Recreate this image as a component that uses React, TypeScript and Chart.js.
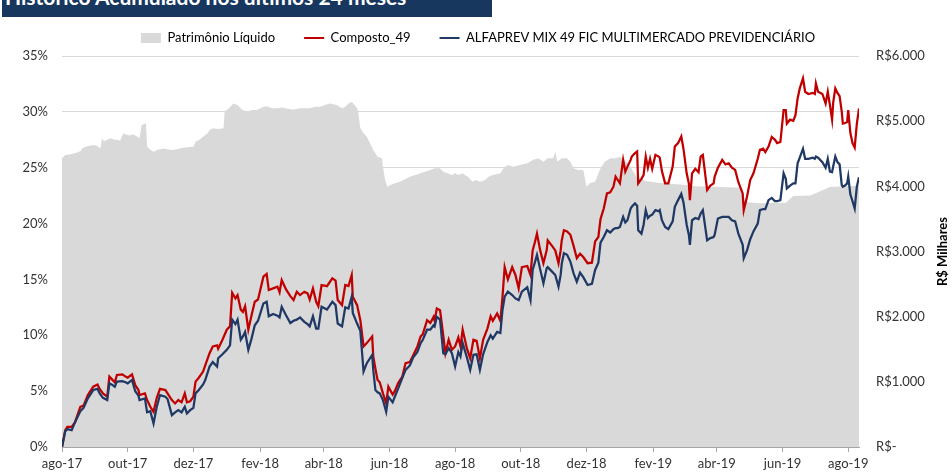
import React, { useEffect, useRef } from 'react';
import { Chart, registerables } from 'chart.js';

Chart.register(...registerables);

// ---- Data ----
const startDate = '2017-08-01';
const endDay = 740; // days after startDate covered by the chart

const xTickDates = ['2017-08-01', '2017-10-01', '2017-12-01', '2018-02-01', '2018-04-01', '2018-06-01', '2018-08-01', '2018-10-01', '2018-12-01', '2019-02-01', '2019-04-01', '2019-06-01', '2019-08-01'];
const xTickLabels = ['ago-17', 'out-17', 'dez-17', 'fev-18', 'abr-18', 'jun-18', 'ago-18', 'out-18', 'dez-18', 'fev-19', 'abr-19', 'jun-19', 'ago-19'];

// day offsets from startDate for the two return series
const lineDays = [
  0, 3, 5, 9, 12, 17, 20, 24, 29, 33, 35, 38, 42, 44, 46, 49, 51, 56, 59, 61, 65,
  68, 71, 72, 77, 79, 82, 85, 88, 91, 96, 98, 102, 105, 108, 111, 114, 116, 119, 122,
  124, 127, 131, 133, 137, 140, 144, 145, 149, 153, 156, 158, 161, 163, 166, 168, 170, 173, 176, 179, 182,
  187, 190, 192, 196, 200, 202, 204, 208, 212, 215, 218, 221, 225, 228, 230, 233, 236, 238,
  241, 246, 251, 254, 256, 260, 263, 266, 269, 270, 274, 277, 280, 283, 288, 289, 291, 293, 295, 298, 301,
  303, 307, 309, 312, 314, 316, 319, 323, 326, 330, 333, 335, 339, 342, 345, 346, 348, 351,
  354, 356, 359, 362, 365, 368, 370, 372, 376, 379, 382, 385, 388, 391, 395, 398, 400, 404, 407,
  409, 411, 414, 418, 421, 424, 427, 432, 435, 437, 439, 441, 444, 447, 450, 451, 455, 458, 461, 463, 464, 466,
  469, 472, 475, 478, 481, 484, 488, 492, 495, 498, 500, 503, 506, 509, 512, 514, 516, 518, 521, 523, 525, 528, 529, 532, 534, 535,
  538, 540, 542, 544, 546, 548, 551, 554, 555, 557, 560, 563, 567, 569, 572, 575, 577, 580, 582, 583, 585, 588, 591, 593, 595, 599,
  602, 605, 606, 609, 613, 616, 619, 622, 625, 628, 632, 633, 636, 639, 642, 646, 648, 651, 653, 656, 659, 662, 664, 667,
  670, 672, 673, 676, 679, 681, 683, 685, 688, 690, 693, 697, 699, 700, 702, 706, 709, 711, 713, 715, 716, 718, 720, 722, 724, 725, 727, 729, 730, 732, 734, 736, 738, 740,
];

// Composto_49 accumulated return (%)
const composto49 = [
  0, 1.5, 1.8, 1.8, 2.2, 3.6, 3.7, 4.65, 5.4, 5.6, 5.2, 4.8, 4.5, 6.3, 6.1, 5.8, 6.45, 6.5, 6.3, 6.2, 6.5,
  5.55, 5.1, 4.65, 4.8, 4.2, 3.6, 3.15, 4.4, 5.2, 5.1, 4.8, 4.2, 3.9, 4.2, 4.0, 4.8, 4.0, 4.1, 4.5,
  5.85, 6.2, 6.75, 7.3, 8.4, 9.0, 9.1, 8.8, 9.6, 10.5, 10.8, 13.8, 13.3, 13.6, 12.3, 12.1, 12.6, 10.5, 11.8, 13.0, 13.2,
  15.25, 15.5, 14.05, 14.2, 14.35, 13.85, 14.95, 14.1, 13.5, 13.15, 13.9, 13.6, 13.9, 13.75, 13.2, 14.2, 13.0, 12.6,
  14.5, 14.4, 15.1, 14.9, 13.15, 12.7, 14.5, 14.4, 15.4, 13.45, 12.7, 11.35, 9.0, 9.3, 9.9, 8.1, 7.0, 6.0, 5.8, 4.8, 3.9,
  5.4, 4.7, 5.0, 5.7, 6.0, 6.3, 7.5, 7.6, 8.2, 9.0, 9.9, 10.1, 11.35, 11.1, 11.65, 11.3, 12.4, 12.25,
  10.0, 8.4, 9.6, 8.7, 9.0, 9.8, 9.0, 10.5, 8.8, 7.95, 9.6, 9.5, 7.95, 9.6, 10.6, 11.7, 11.3, 11.95, 11.3,
  13.45, 16.1, 15.0, 16.1, 15.4, 14.2, 16.1, 16.2, 15.4, 17.6, 18.3, 19.1, 17.6, 16.45, 17.6, 18.5, 18.0, 17.6, 16.45, 17.6, 18.5, 19.4,
  19.3, 19.0, 18.0, 16.9, 17.3, 17.0, 16.45, 16.5, 18.4, 18.8, 20.4, 21.35, 22.7, 22.8, 23.3, 24.2, 23.9, 23.6, 25.7, 24.65, 25.1, 25.7, 26.0, 26.3, 26.45, 23.6,
  24.0, 24.35, 26.0, 25.0, 25.8, 24.9, 26.15, 26.0, 25.9, 24.7, 23.6, 23.6, 25.1, 26.9, 27.2, 27.8, 26.7, 24.5, 23.6, 22.1, 24.5, 24.9, 24.6, 26.0, 26.15, 23.0,
  23.4, 23.6, 24.2, 25.0, 25.7, 25.3, 25.4, 25.0, 24.8, 23.7, 22.7, 21.2, 22.4, 23.9, 24.5, 25.8, 26.6, 26.7, 26.4, 26.9, 27.75, 27.5, 27.2, 27.3,
  30.15, 30.15, 28.95, 29.3, 29.2, 29.7, 31.2, 32.1, 33.0, 31.8, 31.6, 31.7, 31.6, 32.55, 31.8, 31.6, 30.75, 31.8, 30.6, 29.3, 30.8, 32.1, 31.7, 31.4, 30.0, 28.95, 29.0, 29.1, 30.15, 28.1, 27.2, 26.8, 28.95, 30.3,
];

// ALFAPREV MIX 49 FIC MULTIMERCADO PREVIDENCIÁRIO accumulated return (%)
const alfaprev = [
  0, 1.4, 1.6, 1.5, 2.2, 3.2, 3.5, 4.35, 5.1, 5.2, 4.8, 4.4, 4.2, 5.7, 5.6, 5.4, 5.85, 5.9, 5.8, 5.7, 6.0,
  5.0, 4.6, 4.2, 4.35, 3.1, 3.2, 2.1, 3.6, 4.65, 4.5, 4.3, 2.85, 3.1, 3.3, 3.1, 3.6, 3.0, 3.3, 3.5,
  4.8, 5.1, 5.6, 6.0, 7.2, 7.6, 7.2, 7.95, 8.3, 8.7, 9.1, 11.4, 11.0, 11.4, 9.6, 9.9, 10.3, 8.7, 9.7, 10.9, 11.3,
  12.85, 13.0, 11.7, 11.9, 11.75, 11.6, 12.55, 11.8, 11.1, 11.3, 11.4, 11.6, 11.2, 11.0, 10.8, 11.7, 10.6, 10.6,
  12.55, 12.3, 13.0, 12.7, 11.05, 10.8, 12.5, 12.4, 13.45, 12.0, 11.05, 10.4, 6.75, 7.5, 8.25, 6.9, 5.1, 4.9, 4.8, 4.2, 3.15,
  4.5, 4.0, 4.5, 5.2, 5.7, 6.2, 6.9, 7.3, 8.0, 8.5, 9.3, 9.6, 10.5, 10.5, 10.9, 10.8, 11.65, 11.4,
  8.4, 8.3, 8.85, 8.4, 7.2, 8.5, 8.1, 9.3, 8.0, 6.9, 8.25, 8.3, 6.9, 8.3, 9.4, 10.0, 9.7, 10.3, 10.2,
  12.25, 13.45, 13.9, 13.6, 13.3, 13.15, 13.9, 14.3, 13.15, 15.85, 16.5, 17.2, 15.9, 14.65, 16.0, 16.1, 15.7, 15.4, 14.35, 15.4, 16.4, 17.35,
  17.2, 16.6, 15.55, 14.8, 15.6, 15.2, 14.5, 14.6, 15.85, 16.5, 18.3, 18.8, 19.4, 19.2, 19.5, 19.6, 19.6, 19.7, 20.6, 20.1, 20.3, 21.35, 21.5, 21.8, 21.6, 19.4,
  19.1, 19.9, 21.2, 20.5, 20.7, 20.8, 21.2, 21.1, 21.2, 20.3, 19.7, 19.5, 20.2, 21.5, 22.1, 22.65, 21.9, 19.9, 19.0, 18.1, 20.3, 20.5, 20.4, 20.9, 21.2, 18.5,
  18.7, 18.8, 19.0, 20.45, 20.6, 20.6, 20.6, 20.3, 20.2, 19.1, 18.1, 16.9, 17.6, 18.6, 19.3, 20.0, 21.2, 21.3, 21.3, 22.1, 22.3, 22.0, 22.0, 22.1,
  24.5, 24.0, 23.15, 23.4, 23.6, 23.6, 25.4, 25.9, 26.7, 25.8, 25.8, 25.9, 25.8, 26.0, 25.9, 25.5, 25.0, 25.8, 24.65, 24.6, 25.1, 26.0, 25.5, 25.3, 23.45, 23.3, 23.4, 23.6, 24.2, 22.6, 22.0, 21.35, 23.3, 24.15,
];

// Patrimônio Líquido (R$ milhares), day offsets from startDate
const plDays = [
  0, 3, 7, 12, 17, 19, 23, 29, 33, 35, 36, 37, 39, 45, 48, 52, 54, 57, 60, 63, 66, 70, 72, 74, 78, 79,
  82, 85, 89, 94, 98, 102, 107, 111, 116, 122, 124, 128, 131, 135, 137, 140, 145, 150, 151, 155, 159, 163, 167, 172,
  176, 181, 187, 190, 195, 200, 205, 209, 215, 221, 230, 235, 240, 244, 249, 255, 260, 263, 266, 269, 274, 275,
  277, 280, 283, 286, 289, 293, 297, 298, 300, 302, 305, 309, 314, 317, 323, 328, 333, 337, 342, 346, 351, 354,
  358, 362, 365, 368, 372, 374, 377, 381, 384, 388, 393, 396, 400, 407, 410, 414, 419, 425, 432, 437, 442, 447,
  451, 456, 458, 460, 464, 469, 472, 475, 479, 484, 487, 490, 495, 500, 504, 509, 514, 518, 526, 533, 542, 555,
  574, 588, 611, 630, 634, 648, 672, 679, 695, 713, 727, 740,
];
const patrimonio = [
  4430, 4481, 4490, 4507, 4540, 4584, 4610, 4634, 4620, 4584, 4600, 4737, 4690, 4737, 4720, 4710, 4700, 4814, 4790, 4780, 4800, 4762, 4737, 4941, 4967, 4608,
  4560, 4532, 4560, 4580, 4570, 4558, 4570, 4590, 4600, 4608, 4685, 4720, 4762, 4810, 4864, 4890, 4880, 4890, 5145, 5200, 5273, 5250, 5180, 5145,
  5170, 5170, 5222, 5230, 5200, 5200, 5210, 5190, 5180, 5197, 5197, 5222, 5222, 5248, 5273, 5248, 5197, 5222, 5273, 5299, 5197, 5145,
  4890, 4814, 4762, 4660, 4558, 4455, 4430, 4302, 4097, 3995, 4020, 4046, 4072, 4097, 4148, 4174, 4200, 4225, 4251, 4277, 4277, 4225,
  4200, 4174, 4200, 4174, 4200, 4174, 4148, 4072, 4097, 4072, 4097, 4148, 4174, 4200, 4277, 4327, 4302, 4327, 4353, 4404, 4430, 4379,
  4430, 4430, 4532, 4379, 4430, 4430, 4379, 4277, 4251, 4251, 3995, 4046, 4072, 4277, 4379, 4430, 4430, 4455, 4350, 4150, 4080, 4050,
  4030, 4000, 3990, 3980, 3760, 3740, 3750, 3850, 3860, 3990, 4000, 4010,
];

// ---- Helpers ----
const DAY = 86400000;
const dayOf = (iso: string) => (Date.parse(iso + 'T00:00:00Z') - Date.parse(startDate + 'T00:00:00Z')) / DAY;
const xTickDays = xTickDates.map(dayOf);
const toPoints = (days: number[], vals: number[]) => days.map((d, i) => ({ x: d, y: vals[i] }));
const fmtBRL = (v: number) => (v === 0 ? 'R$-' : 'R$' + String(v).replace(/\B(?=(\d{3})+(?!\d))/g, '.'));

const FONT = 'Lato, "Open Sans", sans-serif';
const TEXT = '#333333';
const RED = '#c00000';
const NAVY = '#1f3864';
const GRAY = '#d9d9d9';

const legendTweak = {
  id: 'legendTweak',
  beforeUpdate(chart: any) {
    const lg = chart.legend;
    if (lg && !lg.__tweaked) {
      lg.__tweaked = true;
      const origFit = lg.fit;
      lg.fit = function () {
        origFit.call(this);
        this.height = 53.5;
      };
    }
  },
  afterLayout(chart: any) {
    const lg = chart.legend;
    if (lg) {
      lg.left += 2;
      lg.right += 2;
    }
  },
};

const rightTitle = {
  id: 'rightTitle',
  afterDraw(chart: any) {
    const { ctx, chartArea } = chart;
    ctx.save();
    ctx.translate(chart.width - 9.5, (chartArea.top + chartArea.bottom) / 2);
    ctx.rotate(-Math.PI / 2);
    ctx.font = `bold 13px ${FONT}`;
    ctx.fillStyle = '#000000';
    ctx.textAlign = 'center';
    ctx.textBaseline = 'middle';
    ctx.fillText('R$ Milhares', 0, 0);
    ctx.restore();
  },
};

export default function App() {
  const ref = useRef<HTMLCanvasElement | null>(null);

  useEffect(() => {
    document.body.style.margin = '0';
    if (!ref.current) return;
    Chart.defaults.font.family = FONT;
    const chart = new Chart(ref.current, {
      type: 'line',
      data: {
        datasets: [
          {
            label: 'Patrimônio Líquido',
            data: toPoints(plDays, patrimonio),
            yAxisID: 'y1',
            fill: 'origin',
            backgroundColor: GRAY,
            borderColor: GRAY,
            borderWidth: 0,
            pointRadius: 0,
            order: 3,
          },
          {
            label: 'Composto_49',
            data: toPoints(lineDays, composto49),
            yAxisID: 'y',
            borderColor: RED,
            backgroundColor: RED,
            borderWidth: 2.25,
            pointRadius: 0,
            fill: false,
            order: 2,
          },
          {
            label: 'ALFAPREV MIX 49 FIC MULTIMERCADO PREVIDENCIÁRIO',
            data: toPoints(lineDays, alfaprev),
            yAxisID: 'y',
            borderColor: NAVY,
            backgroundColor: NAVY,
            borderWidth: 2.25,
            pointRadius: 0,
            fill: false,
            order: 1,
          },
        ],
      },
      options: {
        responsive: false,
        animation: false,
        events: [],
        layout: { padding: { top: 2.5, left: 0, right: 0, bottom: 0 } },
        plugins: {
          tooltip: { enabled: false },
          legend: {
            position: 'top',
            labels: {
              usePointStyle: true,
              pointStyleWidth: 20,
              boxHeight: 10,
              padding: 29,
              color: '#000000',
              font: { size: 13, family: FONT },
              generateLabels: () => [
                { text: 'Patrimônio Líquido', fillStyle: GRAY, strokeStyle: GRAY, lineWidth: 0, pointStyle: 'rect', hidden: false, datasetIndex: 0 },
                { text: 'Composto_49', fillStyle: RED, strokeStyle: RED, lineWidth: 2, pointStyle: 'line', hidden: false, datasetIndex: 1 },
                { text: 'ALFAPREV MIX 49 FIC MULTIMERCADO PREVIDENCIÁRIO', fillStyle: NAVY, strokeStyle: NAVY, lineWidth: 2, pointStyle: 'line', hidden: false, datasetIndex: 2 },
              ] as any,
            },
          },
        },
        scales: {
          x: {
            type: 'linear',
            min: 0,
            max: endDay,
            afterBuildTicks: (s: any) => {
              s.ticks = xTickDays.map((v) => ({ value: v }));
            },
            afterFit: (s: any) => {
              s.height = 26;
            },
            ticks: {
              autoSkip: false,
              maxRotation: 0,
              padding: 4,
              color: TEXT,
              font: { size: 13 },
              callback: (_v: any, i: number) => xTickLabels[i],
            },
            grid: { drawOnChartArea: false, drawTicks: true, tickLength: 5, color: '#a6a6a6' },
            border: { display: true, color: '#a6a6a6' },
          },
          y: {
            position: 'left',
            min: 0,
            max: 35,
            afterFit: (s: any) => {
              s.width = 62;
            },
            ticks: {
              stepSize: 5,
              padding: 14,
              color: TEXT,
              font: { size: 13 },
              callback: (v: any) => `${v}%`,
            },
            grid: { color: GRAY, drawTicks: false },
            border: { display: false },
          },
          y1: {
            position: 'right',
            min: 0,
            max: 6000,
            afterFit: (s: any) => {
              s.width = 93;
            },
            ticks: {
              stepSize: 1000,
              padding: 17,
              color: TEXT,
              font: { size: 13 },
              callback: (v: any) => fmtBRL(Number(v)),
            },
            grid: { display: false, drawTicks: false },
            border: { display: false },
          },
        },
      },
      plugins: [legendTweak, rightTitle],
    } as any);
    return () => chart.destroy();
  }, []);

  return (
    <div style={{ position: 'relative', width: 952, height: 473, overflow: 'hidden', background: '#ffffff' }}>
      <canvas ref={ref} width={952} height={473} style={{ position: 'absolute', left: 0, top: 0, width: 952, height: 473 }} />
      <div
        style={{
          position: 'absolute',
          left: 2,
          top: 0,
          width: 490,
          height: 17,
          background: '#17375e',
          overflow: 'hidden',
        }}
      >
        <div
          style={{
            position: 'absolute',
            left: 3,
            top: -13.6,
            whiteSpace: 'nowrap',
            color: '#ffffff',
            fontFamily: FONT,
            fontWeight: 700,
            fontSize: 21,
            lineHeight: '21px',
          }}
        >
          Histórico Acumulado nos últimos 24 meses
        </div>
      </div>
    </div>
  );
}
